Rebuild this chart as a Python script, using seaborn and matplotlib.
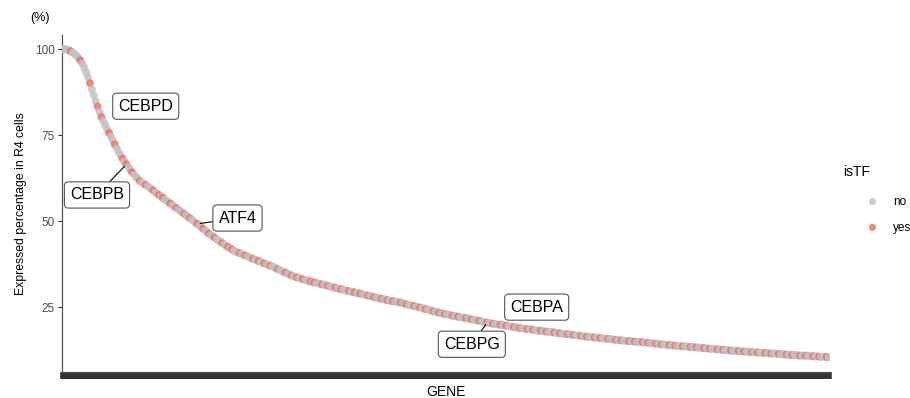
import numpy as np
import pandas as pd
import matplotlib
matplotlib.use("Agg")
import matplotlib.pyplot as plt
import seaborn as sns

# expressed percentage per gene, sorted descending
pct = [
    100.0, 99.95, 99.9, 99.7, 99.4, 99.0, 98.6, 98.1, 97.5, 96.7,
    95.8, 94.7, 93.3, 91.8, 90.1, 88.3, 86.6, 84.9, 83.3, 81.8,
    80.3, 79.1, 77.9, 76.7, 75.6, 74.5, 73.4, 72.3, 71.2, 70.1,
    69.1, 68.2, 67.3, 66.5, 65.7, 64.9, 64.2, 63.5, 62.9, 62.3,
    61.7, 61.3, 60.9, 60.5, 60.1, 59.7, 59.3, 58.9, 58.4, 58.0,
    57.6, 57.2, 56.8, 56.3, 55.9, 55.5, 55.1, 54.7, 54.2, 53.8,
    53.4, 53.0, 52.6, 52.1, 51.7, 51.3, 50.9, 50.5, 50.0, 49.6,
    49.2, 48.7, 48.3, 47.8, 47.3, 46.8, 46.4, 46.0, 45.6, 45.2,
    44.8, 44.4, 44.0, 43.6, 43.2, 42.8, 42.5, 42.1, 41.8, 41.4,
    41.1, 40.9, 40.7, 40.5, 40.2, 40.0, 39.8, 39.5, 39.3, 39.0,
    38.8, 38.6, 38.4, 38.1, 37.9, 37.7, 37.5, 37.3, 37.0, 36.8,
    36.6, 36.3, 36.0, 35.8, 35.5, 35.2, 35.0, 34.7, 34.5, 34.2,
    34.0, 33.8, 33.6, 33.5, 33.3, 33.1, 32.9, 32.8, 32.6, 32.5,
    32.3, 32.2, 32.0, 31.9, 31.7, 31.6, 31.5, 31.3, 31.2, 31.0,
    30.9, 30.8, 30.6, 30.5, 30.3, 30.2, 30.1, 29.9, 29.8, 29.6,
    29.5, 29.4, 29.3, 29.1, 29.0, 28.9, 28.8, 28.6, 28.5, 28.3,
    28.2, 28.1, 27.9, 27.8, 27.7, 27.6, 27.4, 27.3, 27.2, 27.0,
    26.9, 26.8, 26.7, 26.6, 26.5, 26.4, 26.3, 26.1, 26.0, 25.8,
    25.7, 25.6, 25.4, 25.3, 25.1, 25.0, 24.9, 24.7, 24.6, 24.4,
    24.3, 24.1, 24.0, 23.8, 23.7, 23.5, 23.4, 23.3, 23.1, 23.0,
    22.9, 22.8, 22.7, 22.5, 22.4, 22.3, 22.2, 22.1, 22.0, 21.9,
    21.8, 21.7, 21.6, 21.4, 21.3, 21.2, 21.1, 21.0, 20.8, 20.7,
    20.6, 20.5, 20.4, 20.3, 20.2, 20.1, 20.0, 19.9, 19.9, 19.8,
    19.7, 19.6, 19.5, 19.4, 19.3, 19.2, 19.1, 19.0, 18.9, 18.9,
    18.8, 18.7, 18.6, 18.6, 18.5, 18.4, 18.3, 18.2, 18.2, 18.1,
    18.0, 17.9, 17.9, 17.8, 17.8, 17.7, 17.6, 17.5, 17.5, 17.4,
    17.3, 17.2, 17.2, 17.1, 17.1, 17.0, 16.9, 16.8, 16.8, 16.7,
    16.6, 16.5, 16.5, 16.4, 16.4, 16.3, 16.2, 16.2, 16.1, 16.1,
    16.0, 15.9, 15.9, 15.8, 15.8, 15.7, 15.6, 15.6, 15.5, 15.5,
    15.4, 15.3, 15.3, 15.2, 15.2, 15.1, 15.1, 15.0, 15.0, 14.9,
    14.9, 14.8, 14.8, 14.7, 14.7, 14.6, 14.5, 14.5, 14.4, 14.4,
    14.3, 14.2, 14.2, 14.1, 14.1, 14.0, 14.0, 13.9, 13.9, 13.8,
    13.8, 13.7, 13.7, 13.6, 13.6, 13.5, 13.5, 13.4, 13.4, 13.3,
    13.3, 13.2, 13.2, 13.1, 13.1, 13.0, 13.0, 12.9, 12.9, 12.8,
    12.8, 12.7, 12.7, 12.6, 12.6, 12.5, 12.5, 12.4, 12.4, 12.3,
    12.3, 12.3, 12.2, 12.2, 12.1, 12.1, 12.1, 12.0, 12.0, 11.9,
    11.9, 11.9, 11.8, 11.8, 11.7, 11.7, 11.7, 11.6, 11.6, 11.5,
    11.5, 11.5, 11.4, 11.4, 11.3, 11.3, 11.3, 11.2, 11.2, 11.1,
    11.1, 11.1, 11.0, 11.0, 10.9, 10.9, 10.9, 10.9, 10.8, 10.8,
    10.8, 10.7, 10.7, 10.7, 10.6, 10.6, 10.6, 10.5, 10.5, 10.4,
]

# ranks of the genes that are transcription factors
tf_rank = [4, 9, 14, 18, 20, 24, 27, 31, 33, 36, 40, 43, 47, 50, 52, 56, 59,
           63, 66, 70, 73, 76, 79, 83, 86, 88, 92, 95, 99, 102, 105, 108, 112,
           116, 119, 122, 125, 129, 131, 135, 138, 142, 145, 149, 152, 155,
           159, 162, 166, 169, 172, 176, 179, 183, 186, 189, 193, 196, 199,
           203, 206, 210, 213, 217, 221, 224, 228, 231, 235, 238, 242, 245,
           249, 252, 256, 259, 263, 266, 270, 273, 277, 280, 284, 288, 291,
           295, 298, 302, 305, 309, 312, 316, 319, 323, 327, 330, 334, 337,
           341, 344, 348, 352, 355, 359, 362, 366, 369, 373, 377, 380, 384,
           387, 391, 394, 398]

# highlighted genes and their rank
label_genes = ["CEBPD", "CEBPB", "ATF4", "CEBPA", "CEBPG"]
label_rank = [20, 33, 70, 235, 221]

df = pd.DataFrame({"rank": np.arange(len(pct)), "pct": pct})
df["isTF"] = np.where(df["rank"].isin(tf_rank), "yes", "no")

sns.set_style("ticks")
plt.rcParams["font.family"] = ["Liberation Sans", "DejaVu Sans"]
plt.rcParams["text.color"] = "black"
plt.rcParams["axes.labelcolor"] = "black"

fig = plt.figure(figsize=(9.1, 3.98), dpi=100)
ax = fig.add_axes([0.068, 0.065, 0.844, 0.847])

sns.scatterplot(data=df, x="rank", y="pct", hue="isTF", hue_order=["no", "yes"],
                palette={"no": "#C2C2C2", "yes": "#F07068"}, s=32,
                linewidth=0, alpha=0.85, ax=ax, legend=True, zorder=3)

ax.set_xlim(-0.6, len(pct) - 0.4)
ax.set_ylim(6.1, 104.1)
ax.set_yticks([25, 50, 75, 100])
ax.set_xticks(df["rank"])
ax.set_xticklabels([])
ax.tick_params(axis="x", length=5, width=4, color="#333333")
ax.tick_params(axis="y", length=3, width=0.8, color="#333333",
               labelsize=8.5, labelcolor="#4D4D4D", pad=2)
for s in ["left", "bottom"]:
    ax.spines[s].set_color("#555555")
    ax.spines[s].set_linewidth(0.9)
sns.despine(ax=ax)

ax.set_xlabel("GENE", fontsize=10, labelpad=1)
ax.set_ylabel("Expressed percentage in R4 cells", fontsize=8.8, labelpad=6)
fig.text(0.044, 0.955, "(%)", fontsize=9, ha="center", va="center")

# label boxes (offsets as placed in the reference)
box = dict(boxstyle="round,pad=0.35,rounding_size=0.25", fc="white",
           ec="#555555", lw=0.8)
offsets = {"CEBPD": (43.1, 83.4), "CEBPB": (17.7, 57.6), "ATF4": (90.9, 50.9),
           "CEBPA": (246.8, 25.0), "CEBPG": (213.0, 14.2)}
no_segment = ["CEBPD", "CEBPA"]
for g, r in zip(label_genes, label_rank):
    tx, ty = offsets[g]
    arrow = None if g in no_segment else dict(arrowstyle="-", color="black",
                                              lw=0.8, shrinkA=0, shrinkB=2)
    ax.annotate(g, xy=(r, pct[r]), xytext=(tx, ty), fontsize=11.5,
                color="black", ha="center", va="center", bbox=box, zorder=5,
                arrowprops=arrow)

fig.text(0.926, 0.568, "isTF", fontsize=10, ha="left", va="center")
leg = ax.legend(loc="center left", bbox_to_anchor=(0.9335, 0.46),
                bbox_transform=fig.transFigure, frameon=False, fontsize=8.5,
                handletextpad=0.8, labelspacing=1.2, markerscale=0.9)

fig.savefig("out.png", dpi=100)
